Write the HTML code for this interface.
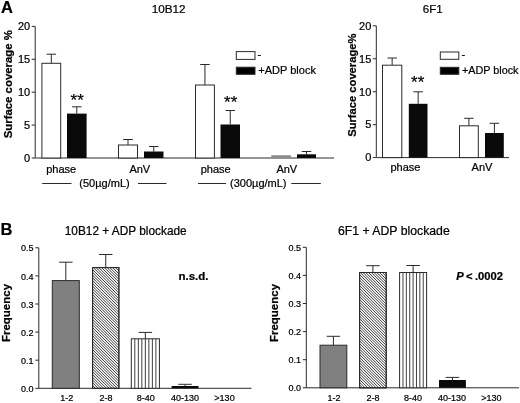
<!DOCTYPE html>
<html><head><meta charset="utf-8"><title>Figure</title>
<style>
html,body{margin:0;padding:0;background:#fff;}
body{width:520px;height:403px;overflow:hidden;}
svg{display:block;font-family:"Liberation Sans",sans-serif;fill:#000;}
text{stroke:#000;stroke-width:0.22px;}
</style></head>
<body>
<svg width="520" height="403" viewBox="0 0 520 403">
<rect width="520" height="403" fill="#fff"/>
<text x="0.9" y="13.2" font-size="16.5" text-anchor="start" font-weight="bold" font-style="normal" stroke-width="0.5">A</text>
<text x="168.7" y="13.3" font-size="11.7" text-anchor="middle" font-weight="normal" font-style="normal" >10B12</text>
<line x1="35.2" y1="26.4" x2="35.2" y2="158.0" stroke="#2a2a2a" stroke-width="1"/>
<line x1="35.2" y1="158.0" x2="334" y2="158.0" stroke="#2a2a2a" stroke-width="1"/>
<line x1="31.7" y1="158.0" x2="35.2" y2="158.0" stroke="#2a2a2a" stroke-width="1"/>
<text x="30.2" y="161.8" font-size="11" text-anchor="end" font-weight="normal" font-style="normal" >0</text>
<line x1="31.7" y1="125.1" x2="35.2" y2="125.1" stroke="#2a2a2a" stroke-width="1"/>
<text x="30.2" y="128.9" font-size="11" text-anchor="end" font-weight="normal" font-style="normal" >5</text>
<line x1="31.7" y1="92.2" x2="35.2" y2="92.2" stroke="#2a2a2a" stroke-width="1"/>
<text x="30.2" y="96.0" font-size="11" text-anchor="end" font-weight="normal" font-style="normal" >10</text>
<line x1="31.7" y1="59.3" x2="35.2" y2="59.3" stroke="#2a2a2a" stroke-width="1"/>
<text x="30.2" y="63.1" font-size="11" text-anchor="end" font-weight="normal" font-style="normal" >15</text>
<line x1="31.7" y1="26.4" x2="35.2" y2="26.4" stroke="#2a2a2a" stroke-width="1"/>
<text x="30.2" y="30.2" font-size="11" text-anchor="end" font-weight="normal" font-style="normal" >20</text>
<text transform="translate(11.5,84.2) rotate(-90)" font-size="11.4" text-anchor="middle" font-weight="bold">Surface coverage %</text>
<line x1="51.3" y1="54.2" x2="51.3" y2="63.3" stroke="#2a2a2a" stroke-width="1"/>
<line x1="46.55" y1="54.2" x2="56.05" y2="54.2" stroke="#2a2a2a" stroke-width="1"/>
<rect x="41.9" y="63.3" width="18.8" height="94.7" fill="#fff" stroke="#2a2a2a" stroke-width="1"/>
<line x1="76.8" y1="106.8" x2="76.8" y2="113.6" stroke="#2a2a2a" stroke-width="1"/>
<line x1="72.05" y1="106.8" x2="81.55" y2="106.8" stroke="#2a2a2a" stroke-width="1"/>
<rect x="67" y="113.6" width="19.6" height="44.4" fill="#0a0a0a"/>
<line x1="128.0" y1="139.5" x2="128.0" y2="145" stroke="#2a2a2a" stroke-width="1"/>
<line x1="123.25" y1="139.5" x2="132.75" y2="139.5" stroke="#2a2a2a" stroke-width="1"/>
<rect x="118.5" y="145" width="19.0" height="13.0" fill="#fff" stroke="#2a2a2a" stroke-width="1"/>
<line x1="153.75" y1="146.5" x2="153.75" y2="151.5" stroke="#2a2a2a" stroke-width="1"/>
<line x1="149.0" y1="146.5" x2="158.5" y2="146.5" stroke="#2a2a2a" stroke-width="1"/>
<rect x="144" y="151.5" width="19.5" height="6.5" fill="#0a0a0a"/>
<line x1="204.95" y1="64.5" x2="204.95" y2="85" stroke="#2a2a2a" stroke-width="1"/>
<line x1="200.2" y1="64.5" x2="209.7" y2="64.5" stroke="#2a2a2a" stroke-width="1"/>
<rect x="195.5" y="85" width="18.9" height="73.0" fill="#fff" stroke="#2a2a2a" stroke-width="1"/>
<line x1="230.25" y1="110.5" x2="230.25" y2="124.5" stroke="#2a2a2a" stroke-width="1"/>
<line x1="225.5" y1="110.5" x2="235.0" y2="110.5" stroke="#2a2a2a" stroke-width="1"/>
<rect x="220.5" y="124.5" width="19.5" height="33.5" fill="#0a0a0a"/>
<rect x="271.2" y="155.2" width="19.8" height="2.6" rx="0.8" fill="#8a8a8a"/>
<line x1="306.5" y1="151.5" x2="306.5" y2="154.3" stroke="#2a2a2a" stroke-width="1"/>
<line x1="301.75" y1="151.5" x2="311.25" y2="151.5" stroke="#2a2a2a" stroke-width="1"/>
<rect x="297" y="154.3" width="19" height="3.7" fill="#0a0a0a"/>
<text x="77.2" y="106.0" font-size="17" text-anchor="middle" font-weight="normal" font-style="normal" stroke="#000" stroke-width="0.3">**</text>
<text x="230.7" y="108.0" font-size="17" text-anchor="middle" font-weight="normal" font-style="normal" stroke="#000" stroke-width="0.3">**</text>
<text x="61.2" y="173" font-size="11" text-anchor="middle" font-weight="normal" font-style="normal" >phase</text>
<text x="139.8" y="173" font-size="11" text-anchor="middle" font-weight="normal" font-style="normal" >AnV</text>
<text x="215.7" y="173" font-size="11" text-anchor="middle" font-weight="normal" font-style="normal" >phase</text>
<text x="286.8" y="173" font-size="11" text-anchor="middle" font-weight="normal" font-style="normal" >AnV</text>
<line x1="42.2" y1="183.5" x2="71.5" y2="183.5" stroke="#2a2a2a" stroke-width="1"/>
<text x="104.5" y="187" font-size="11" text-anchor="middle" font-weight="normal" font-style="normal" >(50µg/mL)</text>
<line x1="138" y1="183.5" x2="166.5" y2="183.5" stroke="#2a2a2a" stroke-width="1"/>
<line x1="198" y1="183.5" x2="226" y2="183.5" stroke="#2a2a2a" stroke-width="1"/>
<text x="258.3" y="187" font-size="11" text-anchor="middle" font-weight="normal" font-style="normal" >(300µg/mL)</text>
<line x1="291.3" y1="183.5" x2="320.8" y2="183.5" stroke="#2a2a2a" stroke-width="1"/>
<rect x="236.3" y="51.6" width="18.7" height="7.8" fill="#fff" stroke="#2a2a2a" stroke-width="1"/>
<rect x="236.3" y="67.2" width="18.7" height="7.1" fill="#000" stroke="#2a2a2a" stroke-width="1"/>
<text x="257.4" y="58.3" font-size="11" text-anchor="start" font-weight="normal" font-style="normal" >-</text>
<text x="258.3" y="74" font-size="11" text-anchor="start" font-weight="normal" font-style="normal" >+ADP block</text>
<text x="432.7" y="12.8" font-size="11.6" text-anchor="middle" font-weight="normal" font-style="normal" >6F1</text>
<line x1="376.3" y1="25.8" x2="376.3" y2="157.6" stroke="#2a2a2a" stroke-width="1"/>
<line x1="376.3" y1="157.6" x2="509" y2="157.6" stroke="#2a2a2a" stroke-width="1"/>
<line x1="372.8" y1="157.6" x2="376.3" y2="157.6" stroke="#2a2a2a" stroke-width="1"/>
<text x="371.3" y="161.4" font-size="11" text-anchor="end" font-weight="normal" font-style="normal" >0</text>
<line x1="372.8" y1="124.65" x2="376.3" y2="124.65" stroke="#2a2a2a" stroke-width="1"/>
<text x="371.3" y="128.45" font-size="11" text-anchor="end" font-weight="normal" font-style="normal" >5</text>
<line x1="372.8" y1="91.7" x2="376.3" y2="91.7" stroke="#2a2a2a" stroke-width="1"/>
<text x="371.3" y="95.5" font-size="11" text-anchor="end" font-weight="normal" font-style="normal" >10</text>
<line x1="372.8" y1="58.75" x2="376.3" y2="58.75" stroke="#2a2a2a" stroke-width="1"/>
<text x="371.3" y="62.55" font-size="11" text-anchor="end" font-weight="normal" font-style="normal" >15</text>
<line x1="372.8" y1="25.8" x2="376.3" y2="25.8" stroke="#2a2a2a" stroke-width="1"/>
<text x="371.3" y="29.6" font-size="11" text-anchor="end" font-weight="normal" font-style="normal" >20</text>
<text transform="translate(355.7,85.2) rotate(-90)" font-size="11.2" text-anchor="middle" font-weight="bold">Surface coverage%</text>
<line x1="392.15" y1="58" x2="392.15" y2="65.2" stroke="#2a2a2a" stroke-width="1"/>
<line x1="387.4" y1="58" x2="396.9" y2="58" stroke="#2a2a2a" stroke-width="1"/>
<rect x="382.5" y="65.2" width="19.3" height="92.4" fill="#fff" stroke="#2a2a2a" stroke-width="1"/>
<line x1="418.15" y1="91.8" x2="418.15" y2="103.8" stroke="#2a2a2a" stroke-width="1"/>
<line x1="413.4" y1="91.8" x2="422.9" y2="91.8" stroke="#2a2a2a" stroke-width="1"/>
<rect x="408.8" y="103.8" width="18.7" height="53.8" fill="#0a0a0a"/>
<line x1="468.9" y1="118.3" x2="468.9" y2="125.8" stroke="#2a2a2a" stroke-width="1"/>
<line x1="464.15" y1="118.3" x2="473.65" y2="118.3" stroke="#2a2a2a" stroke-width="1"/>
<rect x="459.5" y="125.8" width="18.8" height="31.8" fill="#fff" stroke="#2a2a2a" stroke-width="1"/>
<line x1="494.4" y1="123.3" x2="494.4" y2="133" stroke="#2a2a2a" stroke-width="1"/>
<line x1="489.65" y1="123.3" x2="499.15" y2="123.3" stroke="#2a2a2a" stroke-width="1"/>
<rect x="485" y="133" width="18.8" height="24.6" fill="#0a0a0a"/>
<text x="417.7" y="88.4" font-size="17" text-anchor="middle" font-weight="normal" font-style="normal" stroke="#000" stroke-width="0.3">**</text>
<text x="405.5" y="171" font-size="11" text-anchor="middle" font-weight="normal" font-style="normal" >phase</text>
<text x="482" y="171" font-size="11" text-anchor="middle" font-weight="normal" font-style="normal" >AnV</text>
<rect x="440.3" y="52" width="18.5" height="7.3" fill="#fff" stroke="#2a2a2a" stroke-width="1"/>
<rect x="440.3" y="67.3" width="18.5" height="7.0" fill="#000" stroke="#2a2a2a" stroke-width="1"/>
<text x="461.4" y="58.3" font-size="11" text-anchor="start" font-weight="normal" font-style="normal" >-</text>
<text x="462" y="74" font-size="10.8" text-anchor="start" font-weight="normal" font-style="normal" >+ADP block</text>
<text x="0.4" y="234.9" font-size="16.5" text-anchor="start" font-weight="bold" font-style="normal" stroke-width="0.5">B</text>
<text x="125.7" y="234.5" font-size="11.85" text-anchor="middle" font-weight="normal" font-style="normal" >10B12 + ADP blockade</text>
<line x1="38.8" y1="247.8" x2="38.8" y2="388.3" stroke="#2a2a2a" stroke-width="1"/>
<line x1="38.8" y1="388.3" x2="251.5" y2="388.3" stroke="#2a2a2a" stroke-width="1"/>
<line x1="35.3" y1="388.3" x2="38.8" y2="388.3" stroke="#2a2a2a" stroke-width="1"/>
<text x="33.5" y="391.9" font-size="9" text-anchor="end" font-weight="normal" font-style="normal" stroke-width="0.4">0.0</text>
<line x1="35.3" y1="360.2" x2="38.8" y2="360.2" stroke="#2a2a2a" stroke-width="1"/>
<text x="33.5" y="363.8" font-size="9" text-anchor="end" font-weight="normal" font-style="normal" stroke-width="0.4">0.1</text>
<line x1="35.3" y1="332.1" x2="38.8" y2="332.1" stroke="#2a2a2a" stroke-width="1"/>
<text x="33.5" y="335.7" font-size="9" text-anchor="end" font-weight="normal" font-style="normal" stroke-width="0.4">0.2</text>
<line x1="35.3" y1="304.0" x2="38.8" y2="304.0" stroke="#2a2a2a" stroke-width="1"/>
<text x="33.5" y="307.6" font-size="9" text-anchor="end" font-weight="normal" font-style="normal" stroke-width="0.4">0.3</text>
<line x1="35.3" y1="275.9" x2="38.8" y2="275.9" stroke="#2a2a2a" stroke-width="1"/>
<text x="33.5" y="279.5" font-size="9" text-anchor="end" font-weight="normal" font-style="normal" stroke-width="0.4">0.4</text>
<line x1="35.3" y1="247.8" x2="38.8" y2="247.8" stroke="#2a2a2a" stroke-width="1"/>
<text x="33.5" y="251.4" font-size="9" text-anchor="end" font-weight="normal" font-style="normal" stroke-width="0.4">0.5</text>
<text transform="translate(10.3,313) rotate(-90)" font-size="11.5" text-anchor="middle" font-weight="bold">Frequency</text>
<line x1="65.8" y1="262.2" x2="65.8" y2="280.6" stroke="#2a2a2a" stroke-width="1"/>
<line x1="59.05" y1="262.2" x2="72.55" y2="262.2" stroke="#2a2a2a" stroke-width="1"/>
<rect x="52.3" y="280.6" width="27.0" height="107.7" fill="#808080" stroke="#2a2a2a" stroke-width="1"/>
<line x1="105.75" y1="254.5" x2="105.75" y2="267.6" stroke="#2a2a2a" stroke-width="1"/>
<line x1="99.0" y1="254.5" x2="112.5" y2="254.5" stroke="#2a2a2a" stroke-width="1"/>
<clipPath id="c1"><rect x="92.6" y="267.6" width="26.3" height="120.7"/></clipPath>
<rect x="92.6" y="267.6" width="26.3" height="120.7" fill="#fff" stroke="#2a2a2a" stroke-width="1"/>
<path d="M-28.1 267.6l120.7 120.7M-25.34 267.6l120.7 120.7M-22.58 267.6l120.7 120.7M-19.82 267.6l120.7 120.7M-17.06 267.6l120.7 120.7M-14.3 267.6l120.7 120.7M-11.54 267.6l120.7 120.7M-8.78 267.6l120.7 120.7M-6.02 267.6l120.7 120.7M-3.26 267.6l120.7 120.7M-0.5 267.6l120.7 120.7M2.26 267.6l120.7 120.7M5.02 267.6l120.7 120.7M7.78 267.6l120.7 120.7M10.54 267.6l120.7 120.7M13.3 267.6l120.7 120.7M16.06 267.6l120.7 120.7M18.82 267.6l120.7 120.7M21.58 267.6l120.7 120.7M24.34 267.6l120.7 120.7M27.1 267.6l120.7 120.7M29.86 267.6l120.7 120.7M32.62 267.6l120.7 120.7M35.38 267.6l120.7 120.7M38.14 267.6l120.7 120.7M40.9 267.6l120.7 120.7M43.66 267.6l120.7 120.7M46.42 267.6l120.7 120.7M49.18 267.6l120.7 120.7M51.94 267.6l120.7 120.7M54.7 267.6l120.7 120.7M57.46 267.6l120.7 120.7M60.22 267.6l120.7 120.7M62.98 267.6l120.7 120.7M65.74 267.6l120.7 120.7M68.5 267.6l120.7 120.7M71.26 267.6l120.7 120.7M74.02 267.6l120.7 120.7M76.78 267.6l120.7 120.7M79.54 267.6l120.7 120.7M82.3 267.6l120.7 120.7M85.06 267.6l120.7 120.7M87.82 267.6l120.7 120.7M90.58 267.6l120.7 120.7M93.34 267.6l120.7 120.7M96.1 267.6l120.7 120.7M98.86 267.6l120.7 120.7M101.62 267.6l120.7 120.7M104.38 267.6l120.7 120.7M107.14 267.6l120.7 120.7M109.9 267.6l120.7 120.7M112.66 267.6l120.7 120.7M115.42 267.6l120.7 120.7M118.18 267.6l120.7 120.7" clip-path="url(#c1)" stroke="#222" stroke-width="0.9" fill="none"/>
<rect x="92.6" y="267.6" width="26.3" height="120.7" fill="none" stroke="#2a2a2a" stroke-width="1"/>
<line x1="145.35" y1="332.4" x2="145.35" y2="338.8" stroke="#2a2a2a" stroke-width="1"/>
<line x1="138.6" y1="332.4" x2="152.1" y2="332.4" stroke="#2a2a2a" stroke-width="1"/>
<rect x="131.3" y="338.8" width="28.1" height="49.5" fill="#fff" stroke="#2a2a2a" stroke-width="1"/>
<line x1="134.81" y1="338.8" x2="134.81" y2="388.3" stroke="#2a2a2a" stroke-width="0.9"/>
<line x1="138.33" y1="338.8" x2="138.33" y2="388.3" stroke="#2a2a2a" stroke-width="0.9"/>
<line x1="141.84" y1="338.8" x2="141.84" y2="388.3" stroke="#2a2a2a" stroke-width="0.9"/>
<line x1="145.35" y1="338.8" x2="145.35" y2="388.3" stroke="#2a2a2a" stroke-width="0.9"/>
<line x1="148.86" y1="338.8" x2="148.86" y2="388.3" stroke="#2a2a2a" stroke-width="0.9"/>
<line x1="152.38" y1="338.8" x2="152.38" y2="388.3" stroke="#2a2a2a" stroke-width="0.9"/>
<line x1="155.89" y1="338.8" x2="155.89" y2="388.3" stroke="#2a2a2a" stroke-width="0.9"/>
<line x1="185.05" y1="384.3" x2="185.05" y2="386" stroke="#2a2a2a" stroke-width="1"/>
<line x1="178.3" y1="384.3" x2="191.8" y2="384.3" stroke="#2a2a2a" stroke-width="1"/>
<rect x="171.6" y="386" width="26.9" height="2.3" fill="#0a0a0a"/>
<text x="66.7" y="401.1" font-size="9" text-anchor="middle" font-weight="normal" font-style="normal" stroke-width="0.4">1-2</text>
<text x="105.9" y="401.1" font-size="9" text-anchor="middle" font-weight="normal" font-style="normal" stroke-width="0.4">2-8</text>
<text x="145.8" y="401.1" font-size="9" text-anchor="middle" font-weight="normal" font-style="normal" stroke-width="0.4">8-40</text>
<text x="185" y="401.1" font-size="9" text-anchor="middle" font-weight="normal" font-style="normal" stroke-width="0.4">40-130</text>
<text x="224.5" y="401.1" font-size="9" text-anchor="middle" font-weight="normal" font-style="normal" stroke-width="0.4">&gt;130</text>
<text x="193.5" y="280" font-size="11.5" text-anchor="middle" font-weight="bold" font-style="normal" >n.s.d.</text>
<text x="393.8" y="234.5" font-size="12.25" text-anchor="middle" font-weight="normal" font-style="normal" >6F1 + ADP blockade</text>
<line x1="306.3" y1="247.3" x2="306.3" y2="387.8" stroke="#2a2a2a" stroke-width="1"/>
<line x1="306.3" y1="387.8" x2="519" y2="387.8" stroke="#2a2a2a" stroke-width="1"/>
<line x1="302.8" y1="387.8" x2="306.3" y2="387.8" stroke="#2a2a2a" stroke-width="1"/>
<text x="301.0" y="391.4" font-size="9" text-anchor="end" font-weight="normal" font-style="normal" stroke-width="0.4">0.0</text>
<line x1="302.8" y1="359.7" x2="306.3" y2="359.7" stroke="#2a2a2a" stroke-width="1"/>
<text x="301.0" y="363.3" font-size="9" text-anchor="end" font-weight="normal" font-style="normal" stroke-width="0.4">0.1</text>
<line x1="302.8" y1="331.6" x2="306.3" y2="331.6" stroke="#2a2a2a" stroke-width="1"/>
<text x="301.0" y="335.2" font-size="9" text-anchor="end" font-weight="normal" font-style="normal" stroke-width="0.4">0.2</text>
<line x1="302.8" y1="303.5" x2="306.3" y2="303.5" stroke="#2a2a2a" stroke-width="1"/>
<text x="301.0" y="307.1" font-size="9" text-anchor="end" font-weight="normal" font-style="normal" stroke-width="0.4">0.3</text>
<line x1="302.8" y1="275.4" x2="306.3" y2="275.4" stroke="#2a2a2a" stroke-width="1"/>
<text x="301.0" y="279.0" font-size="9" text-anchor="end" font-weight="normal" font-style="normal" stroke-width="0.4">0.4</text>
<line x1="302.8" y1="247.3" x2="306.3" y2="247.3" stroke="#2a2a2a" stroke-width="1"/>
<text x="301.0" y="250.9" font-size="9" text-anchor="end" font-weight="normal" font-style="normal" stroke-width="0.4">0.5</text>
<text transform="translate(277.8,313) rotate(-90)" font-size="11.5" text-anchor="middle" font-weight="bold">Frequency</text>
<line x1="333.4" y1="336.3" x2="333.4" y2="345.2" stroke="#2a2a2a" stroke-width="1"/>
<line x1="326.65" y1="336.3" x2="340.15" y2="336.3" stroke="#2a2a2a" stroke-width="1"/>
<rect x="320" y="345.2" width="26.8" height="42.6" fill="#808080" stroke="#2a2a2a" stroke-width="1"/>
<line x1="372.9" y1="265.7" x2="372.9" y2="272.5" stroke="#2a2a2a" stroke-width="1"/>
<line x1="366.15" y1="265.7" x2="379.65" y2="265.7" stroke="#2a2a2a" stroke-width="1"/>
<clipPath id="c2"><rect x="359.6" y="272.5" width="26.6" height="115.3"/></clipPath>
<rect x="359.6" y="272.5" width="26.6" height="115.3" fill="#fff" stroke="#2a2a2a" stroke-width="1"/>
<path d="M244.3 272.5l115.3 115.3M247.06 272.5l115.3 115.3M249.82 272.5l115.3 115.3M252.58 272.5l115.3 115.3M255.34 272.5l115.3 115.3M258.1 272.5l115.3 115.3M260.86 272.5l115.3 115.3M263.62 272.5l115.3 115.3M266.38 272.5l115.3 115.3M269.14 272.5l115.3 115.3M271.9 272.5l115.3 115.3M274.66 272.5l115.3 115.3M277.42 272.5l115.3 115.3M280.18 272.5l115.3 115.3M282.94 272.5l115.3 115.3M285.7 272.5l115.3 115.3M288.46 272.5l115.3 115.3M291.22 272.5l115.3 115.3M293.98 272.5l115.3 115.3M296.74 272.5l115.3 115.3M299.5 272.5l115.3 115.3M302.26 272.5l115.3 115.3M305.02 272.5l115.3 115.3M307.78 272.5l115.3 115.3M310.54 272.5l115.3 115.3M313.3 272.5l115.3 115.3M316.06 272.5l115.3 115.3M318.82 272.5l115.3 115.3M321.58 272.5l115.3 115.3M324.34 272.5l115.3 115.3M327.1 272.5l115.3 115.3M329.86 272.5l115.3 115.3M332.62 272.5l115.3 115.3M335.38 272.5l115.3 115.3M338.14 272.5l115.3 115.3M340.9 272.5l115.3 115.3M343.66 272.5l115.3 115.3M346.42 272.5l115.3 115.3M349.18 272.5l115.3 115.3M351.94 272.5l115.3 115.3M354.7 272.5l115.3 115.3M357.46 272.5l115.3 115.3M360.22 272.5l115.3 115.3M362.98 272.5l115.3 115.3M365.74 272.5l115.3 115.3M368.5 272.5l115.3 115.3M371.26 272.5l115.3 115.3M374.02 272.5l115.3 115.3M376.78 272.5l115.3 115.3M379.54 272.5l115.3 115.3M382.3 272.5l115.3 115.3M385.06 272.5l115.3 115.3" clip-path="url(#c2)" stroke="#222" stroke-width="0.9" fill="none"/>
<rect x="359.6" y="272.5" width="26.6" height="115.3" fill="none" stroke="#2a2a2a" stroke-width="1"/>
<line x1="413.1" y1="265.5" x2="413.1" y2="272.5" stroke="#2a2a2a" stroke-width="1"/>
<line x1="406.35" y1="265.5" x2="419.85" y2="265.5" stroke="#2a2a2a" stroke-width="1"/>
<rect x="399.6" y="272.5" width="27.0" height="115.3" fill="#fff" stroke="#2a2a2a" stroke-width="1"/>
<line x1="402.98" y1="272.5" x2="402.98" y2="387.8" stroke="#2a2a2a" stroke-width="0.9"/>
<line x1="406.35" y1="272.5" x2="406.35" y2="387.8" stroke="#2a2a2a" stroke-width="0.9"/>
<line x1="409.73" y1="272.5" x2="409.73" y2="387.8" stroke="#2a2a2a" stroke-width="0.9"/>
<line x1="413.1" y1="272.5" x2="413.1" y2="387.8" stroke="#2a2a2a" stroke-width="0.9"/>
<line x1="416.48" y1="272.5" x2="416.48" y2="387.8" stroke="#2a2a2a" stroke-width="0.9"/>
<line x1="419.85" y1="272.5" x2="419.85" y2="387.8" stroke="#2a2a2a" stroke-width="0.9"/>
<line x1="423.23" y1="272.5" x2="423.23" y2="387.8" stroke="#2a2a2a" stroke-width="0.9"/>
<line x1="452.45" y1="377.4" x2="452.45" y2="380" stroke="#2a2a2a" stroke-width="1"/>
<line x1="445.7" y1="377.4" x2="459.2" y2="377.4" stroke="#2a2a2a" stroke-width="1"/>
<rect x="439" y="380" width="26.9" height="7.8" fill="#0a0a0a"/>
<text x="334" y="401.1" font-size="9" text-anchor="middle" font-weight="normal" font-style="normal" stroke-width="0.4">1-2</text>
<text x="373" y="401.1" font-size="9" text-anchor="middle" font-weight="normal" font-style="normal" stroke-width="0.4">2-8</text>
<text x="413" y="401.1" font-size="9" text-anchor="middle" font-weight="normal" font-style="normal" stroke-width="0.4">8-40</text>
<text x="452" y="401.1" font-size="9" text-anchor="middle" font-weight="normal" font-style="normal" stroke-width="0.4">40-130</text>
<text x="491.4" y="401.1" font-size="9" text-anchor="middle" font-weight="normal" font-style="normal" stroke-width="0.4">&gt;130</text>
<text x="456.3" y="280" font-size="11.2" font-weight="bold" text-anchor="start" word-spacing="-0.8"><tspan font-style="italic">P</tspan> &lt; .0002</text>
</svg>
</body></html>
